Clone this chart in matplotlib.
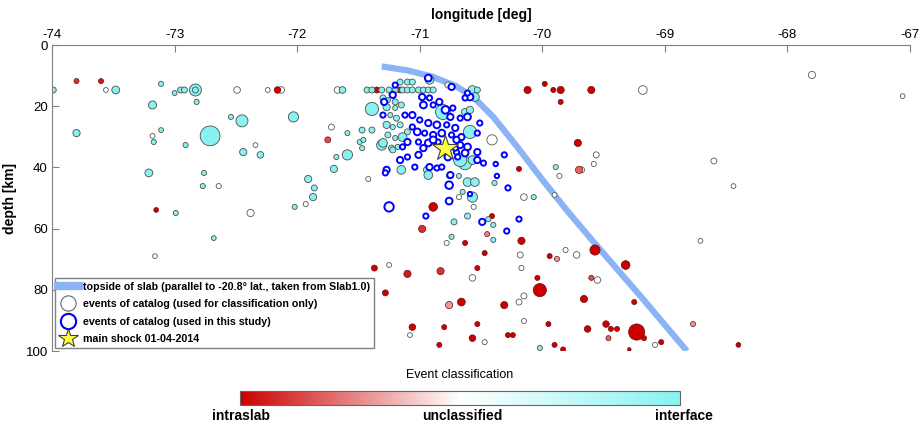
import matplotlib
matplotlib.use('Agg')
import matplotlib.pyplot as plt
import numpy as np
from matplotlib.colors import LinearSegmentedColormap, Normalize
from matplotlib.lines import Line2D
import matplotlib.cm as cm

plt.rcParams['font.family'] = ['Liberation Sans', 'DejaVu Sans']
plt.rcParams['axes.unicode_minus'] = False

# slab top (Slab1.0, -20.8 lat)
slab_lon = [-71.31, -71.1, -70.9, -70.7, -70.55, -70.4, -70.2, -70.0, -69.8, -69.6, -69.2, -68.82]
slab_dep = [7.0, 8.3, 10.3, 13.5, 17.5, 23.5, 33.5, 44.0, 54.0, 63.5, 82.0, 100.0]

# catalog events classified as interface
cy_lon = [-73.99, -73.48, -73.11, -73.00, -72.95, -72.92, -72.83, -72.83, -72.82, -71.63,
          -73.18, -73.80, -72.54, -72.45, -72.03, -72.71, -73.11, -73.17, -72.91, -72.44,
          -72.30, -73.21, -72.76, -72.77, -71.91, -72.99, -72.02, -72.68, -71.59, -71.47,
          -71.39, -71.49, -71.47, -71.59, -71.68, -71.70, -71.86, -71.87, -71.39, -71.31,
          -71.43, -71.39, -71.31, -71.25, -71.20, -71.14, -71.10, -71.06, -71.01, -70.97,
          -70.93, -70.89, -71.16, -71.10, -71.06,
          -71.30, -71.26, -71.20, -71.27, -71.20, -71.15, -71.24, -71.19, -71.27, -71.22,
          -71.16, -71.26, -71.20, -71.30, -71.23, -71.18, -71.10, -71.46, -71.22, -71.14,
          -70.81, -70.57, -70.53, -70.92, -70.63, -70.59, -70.55, -71.15, -70.94, -70.63,
          -70.67, -70.57, -70.61, -70.55, -70.93, -70.76, -70.68, -70.65, -70.57, -70.39,
          -70.59, -70.72, -70.61, -70.44, -70.40, -70.40, -70.74, -69.89, -70.07, -70.02]
cy_dep = [14.7, 14.7, 12.7, 15.7, 14.7, 14.7, 14.7, 14.7, 18.6, 14.7,
          19.6, 28.8, 23.5, 24.8, 23.5, 29.7, 27.8, 31.7, 32.7, 35.0,
          35.9, 41.8, 41.8, 46.1, 43.8, 54.9, 52.9, 63.1, 28.8, 27.8,
          27.8, 31.7, 33.7, 35.9, 36.6, 40.5, 46.7, 49.7, 20.9, 32.7,
          14.7, 14.7, 14.7, 14.7, 14.7, 14.7, 14.7, 14.7, 14.7, 14.7,
          14.7, 14.7, 12.1, 12.1, 12.1,
          17.3, 18.0, 18.6, 20.3, 20.6, 19.6, 22.9, 23.9, 26.1, 26.8,
          26.1, 29.4, 30.4, 32.0, 33.7, 33.3, 28.4, 31.0, 34.3, 30.1,
          21.9, 14.7, 14.7, 11.4, 21.9, 21.2, 17.0, 40.8, 40.8, 38.6,
          37.6, 37.6, 44.8, 44.8, 42.5, 42.8, 42.8, 48.0, 49.7, 45.1,
          28.4, 57.8, 55.9, 56.9, 58.8, 63.7, 62.7, 39.9, 49.7, 99.0]
cy_mag = [2.6, 3.2, 2.3, 2.2, 2.6, 2.6, 4.6, 2.6, 2.3, 2.8,
          3.3, 3.0, 2.3, 4.6, 4.0, 7.2, 2.2, 2.3, 2.3, 3.0,
          2.8, 3.2, 2.3, 2.3, 3.0, 2.3, 2.3, 2.2, 2.3, 2.6,
          2.6, 2.3, 2.3, 4.0, 2.3, 3.0, 2.6, 3.0, 5.0, 4.0,
          2.6, 2.6, 2.6, 2.6, 2.6, 2.6, 2.6, 2.6, 2.6, 2.6,
          2.6, 2.6, 2.6, 2.6, 2.6,
          2.6, 2.3, 2.6, 3.0, 2.3, 2.6, 2.3, 2.6, 3.0, 2.3,
          2.6, 2.6, 2.3, 3.5, 2.6, 2.3, 2.6, 2.3, 2.6, 3.5,
          5.6, 3.5, 2.6, 3.5, 3.0, 3.0, 3.5, 3.5, 3.0, 5.0,
          5.0, 3.5, 3.5, 3.5, 3.5, 2.3, 2.3, 2.3, 4.0, 2.3,
          5.0, 2.6, 2.6, 2.3, 2.3, 2.3, 2.3, 2.3, 2.3, 2.3]

# catalog events left unclassified
wh_lon = [-73.56, -72.49, -72.24, -72.13, -71.67, -73.18, -72.34, -72.64, -72.38, -71.93,
          -73.16, -71.72, -71.42, -70.77, -70.41, -70.68, -70.56, -70.78, -70.15, -69.90,
          -69.56, -69.58, -69.86, -68.60, -68.44, -68.71, -69.18, -67.80, -67.06, -70.18,
          -70.17, -69.81, -69.72, -69.55, -70.57, -70.15, -70.19, -71.08, -70.15, -70.47,
          -69.08, -71.25, -69.68]
wh_dep = [14.7, 14.7, 14.7, 14.7, 14.7, 29.7, 32.7, 46.1, 54.9, 52.0,
          69.0, 26.8, 43.8, 13.1, 31.0, 49.7, 52.9, 64.7, 49.7, 49.0,
          35.9, 38.9, 42.8, 37.9, 46.1, 64.0, 14.7, 9.8, 16.7, 68.6,
          72.9, 67.0, 68.6, 76.8, 76.1, 82.0, 84.0, 94.8, 90.2, 97.1,
          98.0, 71.9, 40.8]
wh_mag = [2.2, 2.8, 2.2, 2.8, 2.8, 2.2, 2.2, 2.3, 3.0, 2.3,
          2.2, 2.6, 2.3, 2.6, 4.0, 2.3, 2.3, 2.3, 2.8, 2.2,
          2.6, 2.3, 2.3, 2.6, 2.2, 2.2, 3.5, 3.0, 2.2, 2.6,
          2.3, 2.3, 2.8, 2.8, 2.8, 2.6, 2.6, 2.2, 2.3, 2.3,
          2.3, 2.2, 2.6]

# catalog events classified as intraslab
rd_lon = [-73.80, -73.60, -72.16, -73.15, -71.75, -71.35, -71.16, -70.12, -69.98, -69.91,
          -69.85, -69.85, -69.60, -69.71, -70.19, -69.70, -70.41, -70.89, -70.98, -70.45,
          -70.63, -70.17, -70.47, -69.94, -69.88, -69.57, -69.32, -71.10, -70.83, -70.53,
          -70.04, -69.60, -70.02, -70.76, -70.66, -70.31, -69.66, -69.25, -71.06, -70.80,
          -70.53, -69.95, -69.63, -69.48, -69.44, -69.39, -69.46, -69.23, -69.17, -69.03,
          -68.77, -70.84, -70.57, -70.28, -70.24, -69.90, -69.83, -69.29, -71.37, -71.28,
          -68.40]
rd_dep = [11.8, 11.8, 14.7, 53.9, 31.0, 14.7, 14.7, 14.7, 12.7, 14.7,
          14.7, 18.6, 14.7, 32.0, 40.5, 40.8, 55.9, 52.9, 60.1, 61.8,
          64.7, 64.0, 68.0, 69.0, 69.9, 67.0, 71.9, 74.8, 73.9, 72.9,
          76.1, 76.1, 80.1, 85.0, 84.0, 85.0, 83.0, 84.0, 92.2, 92.2,
          91.2, 91.2, 92.8, 91.2, 92.8, 92.8, 95.8, 93.8, 95.8, 97.1,
          91.2, 98.0, 95.8, 94.8, 94.8, 98.0, 99.5, 99.5, 72.9, 81.0,
          98.0]
rd_mag = [2.3, 2.3, 2.8, 2.2, 2.6, 2.6, 2.6, 3.0, 2.3, 2.3,
          3.0, 2.3, 3.0, 3.0, 2.3, 3.0, 2.3, 3.5, 3.0, 2.3,
          2.3, 3.0, 2.3, 2.3, 2.3, 4.0, 3.5, 3.0, 3.0, 2.3,
          2.3, 2.3, 5.0, 3.0, 3.2, 3.0, 3.0, 2.3, 2.8, 2.3,
          2.3, 2.3, 2.8, 2.8, 2.3, 2.3, 2.3, 6.0, 2.3, 2.3,
          2.3, 2.3, 2.8, 2.3, 2.3, 2.3, 2.3, 1.8, 2.6, 2.6,
          2.2]
rd_cls = [-0.8, -0.9, -1, -1, -0.7, -1, -1, -1, -1, -1,
          -1, -1, -1, -1, -1, -0.6, -1, -1, -0.8, -0.5,
          -1, -1, -1, -1, -0.4, -1, -1, -0.9, -0.8, -1,
          -1, -0.7, -1, -0.4, -1, -1, -1, -1, -1, -1,
          -1, -1, -1, -1, -1, -1, -0.6, -1, -1, -1,
          -0.4, -1, -1, -1, -1, -1, -1, -1, -1, -1,
          -1]

# events used in this study
st_lon = [-70.93, -71.22, -70.98, -70.92, -70.97, -70.89, -70.84, -70.74, -70.59, -70.63,
          -70.73, -70.79, -70.75, -70.67, -70.61, -70.51, -71.12, -71.06, -71.00, -70.93,
          -70.86, -70.78, -70.71, -71.06, -71.02, -70.96, -70.89, -70.82, -70.74, -70.66,
          -70.53, -71.10, -71.01, -70.93, -70.85, -70.67, -70.61, -71.14, -70.97, -70.70,
          -70.63, -70.53, -71.30, -71.29, -71.20, -70.61, -71.01, -71.10, -70.89, -70.70,
          -70.71, -70.77, -70.69, -70.53, -70.48, -71.16, -71.27, -71.04, -70.92, -70.86,
          -70.75, -71.28, -71.25, -70.82, -70.76, -70.76, -70.59, -70.95, -70.49, -70.29,
          -70.19, -70.31, -70.38, -70.37, -70.28]
st_dep = [10.8, 16.3, 17.0, 17.3, 19.6, 19.6, 18.6, 13.7, 17.0, 17.3,
          20.6, 21.2, 23.5, 23.9, 23.5, 25.5, 22.9, 22.9, 24.5, 25.5,
          26.1, 26.1, 27.1, 26.8, 28.4, 28.8, 29.4, 28.8, 29.4, 30.1,
          28.8, 31.7, 31.7, 32.0, 31.7, 32.7, 33.3, 33.3, 33.7, 35.0,
          35.3, 35.0, 22.9, 18.6, 13.1, 15.7, 35.9, 36.6, 31.0, 31.0,
          33.7, 36.6, 36.6, 37.6, 38.6, 37.6, 40.8, 39.9, 39.9, 40.2,
          42.5, 41.8, 52.9, 39.9, 45.8, 51.0, 48.7, 55.9, 57.8, 60.8,
          56.9, 35.9, 38.9, 42.8, 46.7]
st_mag = [3.2, 3.0, 3.0, 2.6, 3.2, 2.6, 3.0, 3.0, 3.2, 2.6,
          2.6, 3.5, 3.0, 2.6, 3.2, 2.6, 2.6, 3.0, 2.6, 3.0,
          3.2, 2.6, 3.0, 2.6, 3.2, 2.6, 3.0, 3.2, 2.6, 3.0,
          2.6, 3.0, 2.6, 3.2, 2.6, 3.0, 3.2, 2.6, 3.0, 2.6,
          3.2, 3.0, 2.6, 3.0, 2.6, 2.6, 3.0, 2.6, 3.2, 3.0,
          2.6, 3.2, 2.6, 3.0, 2.6, 3.0, 3.0, 2.6, 3.0, 2.6,
          3.0, 2.6, 4.2, 2.6, 3.5, 3.2, 2.3, 2.6, 3.0, 2.6,
          2.6, 2.6, 2.3, 2.3, 2.6]

# main shock 01-04-2014
ms_lon = -70.79
ms_dep = 33.7

cmap = LinearSegmentedColormap.from_list('cls', ['#cc0000', '#ffffff', '#88f2f0'])
norm = Normalize(-1, 1)


def msize(m, k=3.0):
    d = k * (np.asarray(m) - 0.6) * 0.72
    return d ** 2


fig = plt.figure(figsize=(9.19, 4.29), dpi=100)
ax = fig.add_axes([52 / 919, 1 - 351 / 429, 858 / 919, 306 / 429])

ax.plot(slab_lon, slab_dep, color='#8cb4f5', lw=4.5, solid_capstyle='butt',
        solid_joinstyle='round', zorder=1)

ax.scatter(wh_lon, wh_dep, s=msize(wh_mag), c=[0] * len(wh_lon), cmap=cmap, norm=norm,
           edgecolors='0.35', linewidths=0.6, zorder=2)
ax.scatter(rd_lon, rd_dep, s=msize(rd_mag), c=rd_cls, cmap=cmap, norm=norm,
           edgecolors='#6a1010', linewidths=0.5, zorder=2)
ax.scatter(cy_lon, cy_dep, s=msize(cy_mag), c=[1] * len(cy_lon), cmap=cmap, norm=norm,
           edgecolors='0.3', linewidths=0.6, zorder=2)
ax.scatter(st_lon, st_dep, s=msize(st_mag, 2.6), facecolors='white', edgecolors='#0000ff',
           linewidths=1.4, zorder=3)
ax.plot(ms_lon, ms_dep, marker='*', ms=19, mfc='#ffff40', mec='0.25', mew=0.8, zorder=4)

ax.set_xlim(-74, -67)
ax.set_ylim(100, 0)
ax.set_xticks(np.arange(-74, -66, 1))
ax.set_yticks(np.arange(0, 101, 20))
ax.xaxis.tick_top()
ax.xaxis.set_label_position('top')
ax.spines['right'].set_visible(False)
ax.spines['bottom'].set_visible(False)
for s in ['left', 'top']:
    ax.spines[s].set_color('0.5')
ax.tick_params(direction='in', length=5, color='0.5', labelsize=9.5, pad=3)
ax.set_xlabel('longitude [deg]', fontweight='bold', fontsize=10, labelpad=7)
ax.set_ylabel('depth [km]', fontweight='bold', fontsize=10, labelpad=6)

handles = [Line2D([], [], color='#8cb4f5', lw=6),
           Line2D([], [], ls='', marker='o', ms=11, mfc='white', mec='0.4', mew=0.8),
           Line2D([], [], ls='', marker='o', ms=11, mfc='white', mec='#0000ff', mew=1.5),
           Line2D([], [], ls='', marker='*', ms=15, mfc='#ffff40', mec='0.25', mew=0.8)]
labels = ['topside of slab (parallel to -20.8\u00b0 lat., taken from Slab1.0)',
          'events of catalog (used for classification only)',
          'events of catalog (used in this study)',
          'main shock 01-04-2014']
leg = ax.legend(handles, labels, loc='lower left', bbox_to_anchor=(0.003, 0.01),
                borderaxespad=0, prop={'weight': 'bold', 'size': 7.7}, handlelength=1.9,
                handletextpad=0.4, labelspacing=0.7, fancybox=False, framealpha=1,
                borderpad=0.35)
leg.get_frame().set_edgecolor('0.5')
leg.get_frame().set_linewidth(1.0)

cax = fig.add_axes([240 / 919, 1 - 405 / 429, 440 / 919, 14 / 429])
cb = fig.colorbar(cm.ScalarMappable(norm=norm, cmap=cmap), cax=cax, orientation='horizontal')
cb.set_ticks([])
cb.outline.set_edgecolor('0.4')
fig.text(460 / 919, 1 - 375 / 429, 'Event classification', ha='center', va='center', fontsize=9)
fig.text(241 / 919, 1 - 416 / 429, 'intraslab', ha='center', va='center', fontsize=10, fontweight='bold')
fig.text(462 / 919, 1 - 416 / 429, 'unclassified', ha='center', va='center', fontsize=10, fontweight='bold')
fig.text(684 / 919, 1 - 416 / 429, 'interface', ha='center', va='center', fontsize=10, fontweight='bold')

fig.savefig('out.png', dpi=100)
